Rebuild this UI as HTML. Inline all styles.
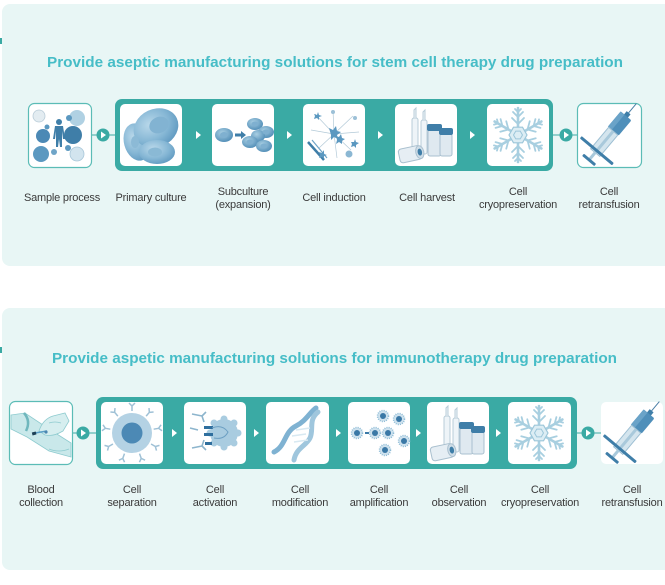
<!DOCTYPE html>
<html><head><meta charset="utf-8"><style>
html,body{margin:0;padding:0;background:#fff;}
svg{display:block;}
.t{font-family:"Liberation Sans",Arial,sans-serif;font-weight:bold;fill:#46bdc7;}
.l{font-family:"Liberation Sans",Arial,sans-serif;font-size:11px;fill:#3a3a3a;text-anchor:middle;letter-spacing:-0.2px;}
</style></head><body>
<svg width="665" height="585" viewBox="0 0 665 585" xmlns="http://www.w3.org/2000/svg">
<defs>
  <radialGradient id="cg" cx="0.4" cy="0.35" r="0.7">
    <stop offset="0" stop-color="#b9d8ea"/><stop offset="0.6" stop-color="#86b7d5"/><stop offset="1" stop-color="#5f99c0"/>
  </radialGradient>
  <radialGradient id="cg2" cx="0.4" cy="0.35" r="0.7">
    <stop offset="0" stop-color="#a9cfe3"/><stop offset="1" stop-color="#4f8cb6"/>
  </radialGradient>
  <g id="arm">
    <line x1="0" y1="0" x2="0" y2="-27" stroke-width="2.6"/>
    <path d="M0,-11 l-6,-6 M0,-11 l6,-6 M0,-18 l-5,-5 M0,-18 l5,-5 M0,-23 l-3,-3 M0,-23 l3,-3" stroke-width="1.8"/>
  </g>
  <g id="snow">
    <g transform="translate(31,31)" stroke="#a8cfe0" fill="none" stroke-linecap="round">
      <use href="#arm"/>
      <use href="#arm" transform="rotate(60)"/>
      <use href="#arm" transform="rotate(120)"/>
      <use href="#arm" transform="rotate(180)"/>
      <use href="#arm" transform="rotate(240)"/>
      <use href="#arm" transform="rotate(300)"/>
      <polygon points="9,0 4.5,7.8 -4.5,7.8 -9,0 -4.5,-7.8 4.5,-7.8" fill="#dcedf4" stroke="#9cc6d9" stroke-width="1.2"/>
      <polygon points="4.5,0 2.25,3.9 -2.25,3.9 -4.5,0 -2.25,-3.9 2.25,-3.9" fill="none" stroke="#9cc6d9" stroke-width="1"/>
    </g>
  </g>
  <g id="vials">
    <rect x="17" y="14" width="6" height="36" rx="2" fill="#eef4f8" stroke="#b8ccd8" stroke-width="1"/>
    <path d="M19,14 L19,6 L21,4 L21,14" fill="#eef4f8" stroke="#b8ccd8" stroke-width="1"/>
    <rect x="26" y="16" width="6" height="34" rx="2" fill="#eef4f8" stroke="#b8ccd8" stroke-width="1"/>
    <path d="M28,16 L28,8 L30,6 L30,16" fill="#eef4f8" stroke="#b8ccd8" stroke-width="1"/>
    <rect x="33" y="26" width="13" height="26" rx="2" fill="#dfe9f0" stroke="#aac0cf" stroke-width="1"/>
    <rect x="32" y="20" width="15" height="7" rx="2" fill="#3f7ea8"/>
    <rect x="45" y="30" width="12" height="22" rx="2" fill="#dfe9f0" stroke="#aac0cf" stroke-width="1"/>
    <rect x="44" y="24" width="14" height="7" rx="2" fill="#3f7ea8"/>
    <g transform="rotate(-12 16 50)">
      <rect x="4" y="43" width="22" height="14" rx="3" fill="#e6eef4" stroke="#aac0cf" stroke-width="1"/>
      <ellipse cx="25" cy="50" rx="4" ry="6.5" fill="#cfdde7" stroke="#aac0cf"/>
      <ellipse cx="25" cy="50" rx="2.2" ry="3.5" fill="#3f7ea8"/>
    </g>
  </g>
  <g id="syr">
    <g transform="rotate(40 31 31)">
      <line x1="31" y1="-10" x2="31" y2="3" stroke="#4a7fa6" stroke-width="1"/>
      <rect x="28.5" y="2" width="5" height="5" fill="#3f7ea8"/>
      <rect x="24" y="6" width="14" height="20" rx="1.5" fill="#4f8fba"/>
      <rect x="24" y="6" width="5" height="20" fill="#6aa3c8"/>
      <rect x="25" y="26" width="12" height="28" fill="#d4e5ee" stroke="#9dbfd3" stroke-width="1"/>
      <rect x="29.5" y="26" width="3" height="37" fill="#a9c9db"/>
      <rect x="10" y="50" width="42" height="3" rx="1" fill="#3f7ea8"/>
      <rect x="23" y="62" width="16" height="3" rx="1" fill="#3f7ea8"/>
    </g>
  </g>
  <g id="sp">
    <circle r="5.5" fill="#cfe2ee"/>
    <circle r="3" fill="#3a78a6"/>
    <circle r="5.5" fill="none" stroke="#8fbcd6" stroke-width="1.5" stroke-dasharray="1 1.2"/>
  </g>
  <g id="ycap" stroke="#9fc1d6" stroke-width="1.5" fill="none">
    <path d="M0,-22 L0,-27 M0,-27 l-3,-3 M0,-27 l3,-3"/>
  </g>
</defs>

<!-- panels -->
<rect x="2" y="4" width="680" height="262" rx="8" fill="#e8f6f5"/>
<rect x="2" y="308" width="680" height="262" rx="8" fill="#e8f6f5"/>
<rect x="0" y="38" width="2" height="6" fill="#3aa9a3"/>
<rect x="0" y="347" width="2" height="6" fill="#3aa9a3"/>

<!-- titles -->
<text class="t" x="47" y="67" font-size="15" textLength="576" lengthAdjust="spacingAndGlyphs">Provide aseptic manufacturing solutions for stem cell therapy drug preparation</text>
<text class="t" x="52" y="363" font-size="15" textLength="565" lengthAdjust="spacingAndGlyphs">Provide aspetic manufacturing solutions for immunotherapy drug preparation</text>

<!-- ROW 1 -->
<line x1="91" y1="135" x2="115" y2="135" stroke="#3aa9a3" stroke-width="1"/>
<line x1="553" y1="135" x2="577" y2="135" stroke="#3aa9a3" stroke-width="1"/>
<rect x="115" y="99" width="438" height="72" rx="7" fill="#3aaaa4"/>
<rect x="28.5" y="103.5" width="63" height="64" rx="6" fill="#fff" stroke="#5bbcb6" stroke-width="1.2"/>
<rect x="577.5" y="103.5" width="64" height="64" rx="6" fill="#fff" stroke="#5bbcb6" stroke-width="1.2"/>
<circle cx="103" cy="135" r="6.5" fill="#3aaaa4"/>
<path d="M101,131.5 L106,135 L101,138.5 Z" fill="#fff"/>
<circle cx="566" cy="135" r="6.5" fill="#3aaaa4"/>
<path d="M564,131.5 L569,135 L564,138.5 Z" fill="#fff"/>

<!-- tiles row1 -->
<rect x="120" y="104" width="62" height="62" rx="5" fill="#fff"/>
<rect x="212" y="104" width="62" height="62" rx="5" fill="#fff"/>
<rect x="303" y="104" width="62" height="62" rx="5" fill="#fff"/>
<rect x="395" y="104" width="62" height="62" rx="5" fill="#fff"/>
<rect x="487" y="104" width="62" height="62" rx="5" fill="#fff"/>
<g fill="#fff">
  <path d="M196,131 L201,135 L196,139 Z"/>
  <path d="M287,131 L292,135 L287,139 Z"/>
  <path d="M378,131 L383,135 L378,139 Z"/>
  <path d="M470,131 L475,135 L470,139 Z"/>
</g>

<!-- sample process icon -->
<g transform="translate(28,103)">
  <circle cx="11" cy="13" r="6" fill="#e3ecf1" stroke="#b9ccd8" stroke-width="0.8"/>
  <circle cx="49" cy="15" r="8" fill="#b0d1e3"/>
  <circle cx="41" cy="15" r="3" fill="#5b98c0"/>
  <circle cx="19" cy="24" r="2.5" fill="#5b98c0"/>
  <circle cx="15" cy="33" r="7" fill="#4c89b5"/>
  <circle cx="45" cy="32" r="9" fill="#3f7ea8"/>
  <circle cx="13" cy="51" r="8" fill="#5b98c0"/>
  <circle cx="26" cy="49" r="3" fill="#6fa5c8"/>
  <circle cx="40" cy="45" r="3" fill="#5b98c0"/>
  <circle cx="49" cy="51" r="7" fill="#d2e4ee" stroke="#a9c7d9" stroke-width="0.8"/>
  <circle cx="31" cy="19" r="3" fill="#3f7ea8"/>
  <path d="M27,23 L35,23 L37,36 L35,36 L34,28 L34,44 L32,44 L31,36 L30,44 L28,44 L28,28 L27,36 L25,36 Z" fill="#3f7ea8"/>
</g>

<!-- primary culture -->
<g transform="translate(120,104)">
  <ellipse cx="17" cy="38" rx="13" ry="19" fill="url(#cg)" transform="rotate(-15 17 38)"/>
  <ellipse cx="36" cy="24" rx="23" ry="19" fill="url(#cg)" transform="rotate(-25 36 24)"/>
  <ellipse cx="39" cy="21" rx="10" ry="8" fill="#82b3d2" transform="rotate(-25 39 21)"/>
  <ellipse cx="37" cy="48" rx="18" ry="12" fill="url(#cg)"/>
  <ellipse cx="35" cy="48" rx="7" ry="4.5" fill="#8ab9d5"/>
  <ellipse cx="15" cy="38" rx="4" ry="6" fill="#8cbad6"/>
</g>

<!-- subculture -->
<g transform="translate(212,104)">
  <ellipse cx="12" cy="31" rx="9" ry="7" fill="url(#cg2)"/>
  <ellipse cx="12" cy="31" rx="4" ry="3" fill="#7fb0d0"/>
  <path d="M23,31 L30,31" stroke="#3f7ea8" stroke-width="3"/>
  <path d="M29,27 L34,31 L29,35 Z" fill="#3f7ea8"/>
  <ellipse cx="43" cy="20" rx="8" ry="6" fill="url(#cg2)"/>
  <ellipse cx="54" cy="28" rx="8" ry="6" fill="url(#cg2)"/>
  <ellipse cx="46" cy="32" rx="7" ry="6" fill="url(#cg2)"/>
  <ellipse cx="38" cy="38" rx="8" ry="6" fill="url(#cg2)"/>
  <ellipse cx="52" cy="42" rx="8" ry="6" fill="url(#cg2)"/>
  <ellipse cx="43" cy="20" rx="3.5" ry="2.5" fill="#7fb0d0"/>
  <ellipse cx="54" cy="28" rx="3.5" ry="2.5" fill="#7fb0d0"/>
  <ellipse cx="38" cy="38" rx="3.5" ry="2.5" fill="#7fb0d0"/>
  <ellipse cx="52" cy="42" rx="3.5" ry="2.5" fill="#7fb0d0"/>
</g>

<!-- cell induction -->
<g transform="translate(303,104)">
  <g stroke="#b3cad8" stroke-width="0.7" fill="none">
    <path d="M31,30 L12,10 M31,30 L30,6 M31,30 L50,12 M31,30 L56,28 M31,30 L48,46 M31,30 L34,54 M31,30 L16,44 M31,30 L8,26"/>
  </g>
  <path d="M5,38 L21,56" stroke="#3f7ea8" stroke-width="2.5"/>
  <path d="M9,36 L24,54" stroke="#6ea3c6" stroke-width="1.2"/>
  <g fill="#5b98c0">
    <path d="M26,24 l4,2 l3,-4 l1,5 l4,1 l-4,3 l1,4 l-4,-2 l-3,3 l0,-5 z"/>
    <path d="M33,32 l3,1 l2,-3 l1,4 l3,1 l-3,2 l0,3 l-3,-2 l-3,2 l1,-4 z"/>
    <path d="M48,38 l3,0 l1,-3 l1,3 l3,1 l-3,2 l0,3 l-2,-2 l-3,1 l1,-3 z"/>
    <path d="M16,48 l3,1 l2,-3 l0,4 l3,1 l-3,1 l0,3 l-2,-2 l-3,1 l1,-3 z"/>
    <path d="M11,10 l3,1 l1,-3 l1,3 l3,1 l-3,1 l0,3 l-2,-2 l-3,1 l1,-3 z"/>
  </g>
  <circle cx="46" cy="50" r="3.5" fill="#8bb7d3"/>
  <circle cx="30" cy="8" r="2" fill="#9cc0d7"/>
  <circle cx="52" cy="14" r="2" fill="#9cc0d7"/>
</g>

<use href="#vials" x="395" y="104"/>
<use href="#snow" x="487" y="104"/>
<use href="#syr" x="579" y="104"/>

<!-- labels row 1 -->
<text class="l" x="62" y="201">Sample process</text>
<text class="l" x="151" y="201">Primary culture</text>
<text class="l" x="243" y="195">Subculture</text>
<text class="l" x="243" y="208">(expansion)</text>
<text class="l" x="334" y="201">Cell induction</text>
<text class="l" x="427" y="201">Cell harvest</text>
<text class="l" x="518" y="195">Cell</text>
<text class="l" x="518" y="208">cryopreservation</text>
<text class="l" x="609" y="195">Cell</text>
<text class="l" x="609" y="208">retransfusion</text>

<!-- ROW 2 -->
<line x1="72" y1="433" x2="96" y2="433" stroke="#3aa9a3" stroke-width="1"/>
<line x1="577" y1="433" x2="601" y2="433" stroke="#3aa9a3" stroke-width="1"/>
<rect x="96" y="397" width="481" height="72" rx="7" fill="#3aaaa4"/>
<rect x="9.5" y="401.5" width="63" height="63" rx="6" fill="#fff" stroke="#5bbcb6" stroke-width="1.2"/>
<rect x="601" y="402" width="62" height="62" rx="5" fill="#fff"/>
<circle cx="83" cy="433" r="6.5" fill="#3aaaa4"/>
<path d="M81,429.5 L86,433 L81,436.5 Z" fill="#fff"/>
<circle cx="588" cy="433" r="6.5" fill="#3aaaa4"/>
<path d="M586,429.5 L591,433 L586,436.5 Z" fill="#fff"/>

<rect x="101" y="402" width="62" height="62" rx="5" fill="#fff"/>
<rect x="184" y="402" width="62" height="62" rx="5" fill="#fff"/>
<rect x="266" y="402" width="63" height="62" rx="5" fill="#fff"/>
<rect x="348" y="402" width="62" height="62" rx="5" fill="#fff"/>
<rect x="427" y="402" width="62" height="62" rx="5" fill="#fff"/>
<rect x="508" y="402" width="63" height="62" rx="5" fill="#fff"/>
<g fill="#fff">
  <path d="M172,429 L177,433 L172,437 Z"/>
  <path d="M254,429 L259,433 L254,437 Z"/>
  <path d="M336,429 L341,433 L336,437 Z"/>
  <path d="M416,429 L421,433 L416,437 Z"/>
  <path d="M496,429 L501,433 L496,437 Z"/>
</g>

<!-- blood collection -->
<g transform="translate(9,401)">
  <path d="M2,14 L16,12 L40,28 L62,42 L62,56 L40,50 L18,36 L2,28 Z" fill="#c9e8ea" stroke="#8ecbcf" stroke-width="0.8"/>
  <path d="M15,12 Q22,20 17,30" fill="none" stroke="#6fb7bd" stroke-width="2.5"/>
  <path d="M30,30 Q34,18 44,15 L56,12 L60,20 L54,30 Q44,36 36,34 Z" fill="#d6eeef" stroke="#8ecbcf" stroke-width="0.8"/>
  <path d="M40,22 Q46,20 52,22" fill="none" stroke="#8ecbcf" stroke-width="0.8"/>
  <path d="M26,32 L38,30" stroke="#5a9ec6" stroke-width="1.5"/>
  <circle cx="37" cy="31" r="1.6" fill="#4a86b0"/>
  <rect x="23" y="31" width="4" height="3" fill="#1d3f55" transform="rotate(-15 25 32)"/>
  <path d="M40,48 Q50,52 60,48" fill="none" stroke="#8ecbcf" stroke-width="0.8"/>
</g>

<!-- cell separation -->
<g transform="translate(132,433)">
  <use href="#ycap"/>
  <use href="#ycap" transform="rotate(40)"/>
  <use href="#ycap" transform="rotate(80)"/>
  <use href="#ycap" transform="rotate(120)"/>
  <use href="#ycap" transform="rotate(160)"/>
  <use href="#ycap" transform="rotate(200)"/>
  <use href="#ycap" transform="rotate(240)"/>
  <use href="#ycap" transform="rotate(280)"/>
  <use href="#ycap" transform="rotate(320)"/>
  <circle r="20" fill="#b4d2e4"/>
  <circle r="10.5" fill="#4c89b5"/>
</g>

<!-- cell activation -->
<g transform="translate(184,402)">
  <g transform="translate(40,31)" fill="#a9cce0">
    <circle r="14"/>
    <circle cx="0" cy="-14" r="3.5"/><circle cx="10" cy="-10" r="3.5"/><circle cx="14" cy="0" r="3.5"/>
    <circle cx="10" cy="10" r="3.5"/><circle cx="0" cy="14" r="3.5"/><circle cx="-10" cy="10" r="3.5"/>
    <circle cx="-10" cy="-10" r="3.5"/><circle cx="-14" cy="0" r="3.5"/>
  </g>
  <g stroke="#8db5cd" stroke-width="1.6" fill="none">
    <path d="M8,12 L18,14 M18,14 L22,10 M18,14 L20,20"/>
    <path d="M8,46 L18,44 M18,44 L22,48 M18,44 L20,38"/>
    <path d="M6,26 L14,28"/>
  </g>
  <rect x="20" y="24" width="9" height="3" fill="#2f6f9e"/>
  <rect x="20" y="31" width="9" height="3" fill="#2f6f9e"/>
  <rect x="21" y="40" width="7" height="3" fill="#2f6f9e"/>
  <path d="M28,26 Q38,22 44,30 Q40,38 30,36" fill="none" stroke="#6c9fc2" stroke-width="1"/>
</g>

<!-- DNA -->
<g transform="translate(266,402)">
  <path d="M8,50 C20,44 18,30 30,24 C40,19 44,10 50,6" fill="none" stroke="#7fb2d2" stroke-width="5" stroke-linecap="round"/>
  <path d="M28,58 C30,46 40,44 44,36 C48,28 42,18 52,10" fill="none" stroke="#9fc6dd" stroke-width="5" stroke-linecap="round"/>
  <g stroke="#d8e9f2" stroke-width="1.6">
    <path d="M26,34 L40,32 M28,40 L42,38 M30,28 L44,26"/>
  </g>
</g>

<!-- amplification -->
<g transform="translate(348,402)">
  <use href="#sp" transform="translate(9,31)"/>
  <path d="M17,31 L21,31" stroke="#3a78a6" stroke-width="2"/>
  <use href="#sp" transform="translate(27,31)"/>
  <use href="#sp" transform="translate(40,31)"/>
  <use href="#sp" transform="translate(35,14)"/>
  <use href="#sp" transform="translate(51,17)"/>
  <use href="#sp" transform="translate(56,39)"/>
  <use href="#sp" transform="translate(37,48)"/>
</g>

<use href="#vials" x="427" y="402"/>
<use href="#snow" x="508" y="402"/>
<use href="#syr" x="602" y="402"/>

<!-- labels row 2 -->
<text class="l" x="41" y="493">Blood</text>
<text class="l" x="41" y="506">collection</text>
<text class="l" x="132" y="493">Cell</text>
<text class="l" x="132" y="506">separation</text>
<text class="l" x="215" y="493">Cell</text>
<text class="l" x="215" y="506">activation</text>
<text class="l" x="300" y="493">Cell</text>
<text class="l" x="300" y="506">modification</text>
<text class="l" x="379" y="493">Cell</text>
<text class="l" x="379" y="506">amplification</text>
<text class="l" x="459" y="493">Cell</text>
<text class="l" x="459" y="506">observation</text>
<text class="l" x="540" y="493">Cell</text>
<text class="l" x="540" y="506">cryopreservation</text>
<text class="l" x="632" y="493">Cell</text>
<text class="l" x="632" y="506">retransfusion</text>
</svg>
</body></html>
